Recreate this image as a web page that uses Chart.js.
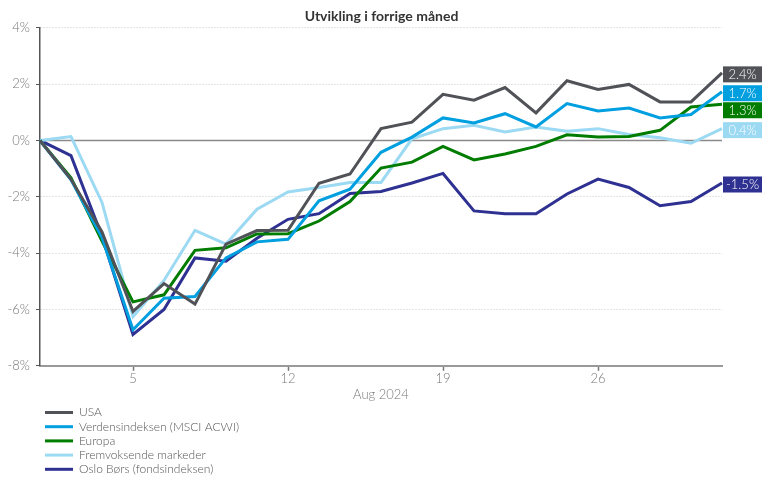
<!DOCTYPE html>
<html>
<head>
<meta charset="utf-8">
<script src="https://cdn.jsdelivr.net/npm/chart.js@4.4.1/dist/chart.umd.min.js"></script>
<style>
  body { margin: 0; background: #fff; }
  canvas { display: block; }
</style>
</head>
<body>
<canvas id="chartUtvikling" width="763" height="477"></canvas>
<script>
const dates = ['2024-07-31', '2024-08-01', '2024-08-02', '2024-08-05', '2024-08-06', '2024-08-07', '2024-08-08', '2024-08-09',
  '2024-08-12', '2024-08-13', '2024-08-14', '2024-08-15', '2024-08-16', '2024-08-19', '2024-08-20', '2024-08-21',
  '2024-08-22', '2024-08-23', '2024-08-26', '2024-08-27', '2024-08-28', '2024-08-29', '2024-08-30'];
const tickDays = ['5', '12', '19', '26'];
const yTicks = [-8, -6, -4, -2, 0, 2, 4];

const usa = [0, -1.38, -3.25, -6.07, -5.08, -5.81, -3.68, -3.2, -3.19, -1.52, -1.19, 0.42, 0.65, 1.64, 1.43, 1.88, 0.98, 2.12, 1.81, 1.99, 1.37, 1.37, 2.4];
const verdens = [0, -1.4, -3.45, -6.72, -5.6, -5.54, -4.17, -3.6, -3.51, -2.14, -1.73, -0.42, 0.12, 0.8, 0.62, 0.95, 0.48, 1.31, 1.05, 1.15, 0.8, 0.92, 1.73];
const europa = [0, -1.33, -3.57, -5.73, -5.48, -3.9, -3.81, -3.32, -3.31, -2.86, -2.17, -0.98, -0.77, -0.21, -0.69, -0.48, -0.21, 0.2, 0.12, 0.14, 0.36, 1.19, 1.29];
const fremvoksende = [0, 0.14, -2.2, -6.25, -4.97, -3.19, -3.68, -2.44, -1.83, -1.67, -1.49, -1.49, 0.06, 0.42, 0.54, 0.3, 0.48, 0.33, 0.42, 0.21, 0.1, -0.1, 0.42];
const oslo = [0, -0.54, -3.4, -6.89, -6.0, -4.17, -4.29, -3.47, -2.8, -2.6, -1.88, -1.81, -1.51, -1.17, -2.5, -2.6, -2.6, -1.9, -1.37, -1.67, -2.32, -2.17, -1.51];

const fontFamily = 'Lato, "Noto Sans", sans-serif';

// nullinje
const zeroLine = {
  id: 'zeroLine',
  beforeDatasetsDraw(chart) {
    const {ctx, chartArea, scales} = chart;
    const y = scales.y.getPixelForValue(0);
    ctx.save();
    ctx.strokeStyle = '#8a8a8a';
    ctx.lineWidth = 1.5;
    ctx.beginPath();
    ctx.moveTo(chartArea.left, y);
    ctx.lineTo(chartArea.right, y);
    ctx.stroke();
    ctx.restore();
  }
};

// verdi-bokser til høyre
const endLabels = {
  id: 'endLabels',
  afterDatasetsDraw(chart) {
    const {ctx, chartArea} = chart;
    const h = 16;
    const items = chart.data.datasets.map((ds, i) => {
      const meta = chart.getDatasetMeta(i);
      const pt = meta.data[meta.data.length - 1];
      return {y: pt.y + 1.5, color: ds.borderColor, text: ds.data[ds.data.length - 1].toFixed(1) + '%'};
    }).sort((a, b) => a.y - b.y);
    for (let i = 1; i < items.length; i++) {
      if (items[i].y < items[i - 1].y + h + 1) items[i].y = items[i - 1].y + h + 1;
    }
    ctx.save();
    ctx.font = '300 13px ' + fontFamily;
    ctx.textAlign = 'center';
    ctx.textBaseline = 'middle';
    items.forEach(it => {
      ctx.fillStyle = it.color;
      ctx.fillRect(chartArea.right + 1, it.y - h / 2, 39, h);
      ctx.fillStyle = '#fff';
      ctx.fillText(it.text, chartArea.right + 20.5, it.y + 0.5);
    });
    ctx.restore();
  }
};

// legende i en kolonne under grafen
const columnLegend = {
  id: 'columnLegend',
  afterDraw(chart) {
    const {ctx} = chart;
    ctx.save();
    ctx.font = '300 12px ' + fontFamily;
    ctx.textBaseline = 'middle';
    chart.data.datasets.forEach((ds, i) => {
      const y = 412.5 + i * 14.2;
      ctx.strokeStyle = ds.borderColor;
      ctx.lineWidth = 3;
      ctx.beginPath();
      ctx.moveTo(45, y);
      ctx.lineTo(73, y);
      ctx.stroke();
      ctx.fillStyle = '#555';
      ctx.fillText(ds.label, 79, y);
    });
    ctx.restore();
  }
};

const lineOpts = {fill: false, borderWidth: 3, pointRadius: 0, pointHoverRadius: 0, tension: 0};

const ctx = document.getElementById('chartUtvikling').getContext('2d');
const myChart = new Chart(ctx, {
  type: 'line',
  data: {
    labels: dates,
    datasets: [
      {label: 'USA', data: usa, borderColor: '#505257', ...lineOpts},
      {label: 'Verdensindeksen (MSCI ACWI)', data: verdens, borderColor: '#009fe0', ...lineOpts},
      {label: 'Europa', data: europa, borderColor: '#007d00', ...lineOpts},
      {label: 'Fremvoksende markeder', data: fremvoksende, borderColor: '#9cd9f3', ...lineOpts},
      {label: 'Oslo Børs (fondsindeksen)', data: oslo, borderColor: '#2e3192', ...lineOpts}
    ]
  },
  plugins: [zeroLine, endLabels, columnLegend],
  options: {
    responsive: false,
    animation: false,
    devicePixelRatio: 1,
    layout: {
      padding: {left: 0, right: 0, top: 0, bottom: 70}
    },
    plugins: {
      legend: {display: false},
      tooltip: {enabled: false},
      title: {
        display: true,
        text: 'Utvikling i forrige måned',
        color: '#333',
        font: {family: fontFamily, size: 14, weight: 'bold'},
        padding: {top: 8, bottom: 3}
      }
    },
    scales: {
      x: {
        type: 'category',
        offset: false,
        afterBuildTicks(scale) {
          scale.ticks = scale.ticks.filter(t => tickDays.includes(String(Number(dates[t.value].slice(8)))));
        },
        ticks: {
          autoSkip: false,
          maxRotation: 0,
          padding: 0,
          color: '#777',
          font: {family: fontFamily, size: 13, weight: '300'},
          callback(value) {
            return String(Number(dates[value].slice(8)));
          }
        },
        grid: {drawOnChartArea: false, drawTicks: true, tickLength: 5, tickColor: '#777', tickWidth: 1.5},
        border: {display: true, color: '#999', width: 2},
        title: {
          display: true,
          text: 'Aug 2024',
          color: '#777',
          font: {family: fontFamily, size: 13, weight: '300'},
          padding: {top: 1, bottom: 4}
        }
      },
      y: {
        min: -8,
        max: 4,
        afterFit(scale) { scale.width = 40; },
        afterBuildTicks(scale) {
          scale.ticks = yTicks.map(v => ({value: v}));
        },
        ticks: {
          padding: 6,
          color: '#777',
          font: {family: fontFamily, size: 13, weight: '300'},
          callback(value) { return value + '%'; }
        },
        grid: {color: '#c8c8c8', lineWidth: 1, tickLength: 4, tickColor: '#555'},
        border: {display: true, color: '#555', width: 1.5, dash: [1, 2]}
      },
      // tom akse som holder plass til verdi-boksene
      yPlass: {
        position: 'right',
        display: true,
        afterFit(scale) { scale.width = 41; },
        ticks: {display: false},
        grid: {display: false, drawTicks: false},
        border: {display: false}
      }
    }
  }
});
</script>
</body>
</html>
